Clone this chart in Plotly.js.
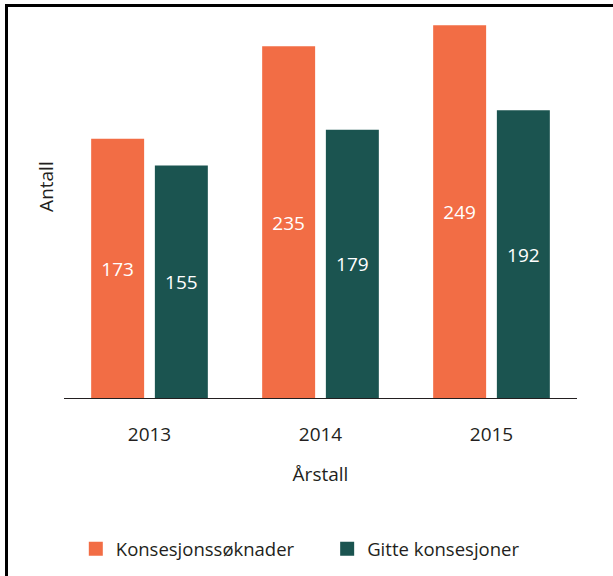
<!DOCTYPE html>
<html>
<head>
<meta charset="utf-8">
<script src="https://cdn.plot.ly/plotly-3.0.1.min.js"></script>
<style>
html,body{margin:0;padding:0;background:#fff;}
#wrap{position:relative;width:613px;height:576px;overflow:hidden;}
#chart{position:absolute;left:0;top:0;width:613px;height:576px;}
.bl{position:absolute;background:#000;}
</style>
</head>
<body>
<div id="wrap">
<div id="chart"></div>
<div class="bl" style="left:5px;top:4px;width:3px;height:572px;"></div>
<div class="bl" style="left:5px;top:4px;width:608px;height:3px;"></div>
</div>
<script>
const years = ['2013', '2014', '2015'];
const soknader = [173, 235, 249];
const gitte = [155, 179, 192];
const seriesNames = ['Konsesjonssøknader', 'Gitte konsesjoner'];

const font = 'Open Sans, Noto Sans, sans-serif';
const traces = [
  {type:'bar', name:seriesNames[0], x:years, y:soknader, legend:'legend',
   marker:{color:'#F26D45', line:{color:'#F26D45', width:2}},
   text:soknader.map(String), textposition:'inside', insidetextanchor:'middle',
   textfont:{color:'#ffffff', size:19, family:font}, hoverinfo:'none'},
  {type:'bar', name:seriesNames[1], x:years, y:gitte, legend:'legend2',
   marker:{color:'#1B5450', line:{color:'#1B5450', width:2}},
   text:gitte.map(String), textposition:'inside', insidetextanchor:'middle',
   textfont:{color:'#ffffff', size:19, family:font}, hoverinfo:'none'}
];
const legendBase = {orientation:'h', xanchor:'left', y:-0.4, yanchor:'middle',
                    font:{size:18.5, color:'#231f20'}, itemwidth:30, bgcolor:'rgba(0,0,0,0)'};
const layout = {
  width:613, height:576,
  margin:{l:64, r:36, t:20, b:178, autoexpand:false},
  paper_bgcolor:'rgba(0,0,0,0)', plot_bgcolor:'rgba(0,0,0,0)',
  barmode:'group', bargap:0.255, bargroupgap:0.2,
  font:{family:font, color:'#231f20', size:19},
  showlegend:true,
  legend:Object.assign({}, legendBase, {x:0.023}),
  legend2:Object.assign({}, legendBase, {x:0.513}),
  xaxis:{type:'category', showline:true, linecolor:'#231f20', linewidth:1.2, ticks:'',
         ticklabelstandoff:19,
         tickfont:{size:19}, title:{text:'Årstall', font:{size:19}, standoff:21}, fixedrange:true},
  yaxis:{range:[0,253.2], showticklabels:false, showgrid:false, zeroline:false, ticks:'', fixedrange:true},
  annotations:[{text:'Antall', xref:'paper', yref:'paper', x:-0.034, y:0.56, xanchor:'center', yanchor:'middle',
                textangle:-90, showarrow:false, font:{size:19, color:'#231f20'}}]
};
Plotly.newPlot('chart', traces, layout, {displayModeBar:false, staticPlot:true});
</script>
</body>
</html>
